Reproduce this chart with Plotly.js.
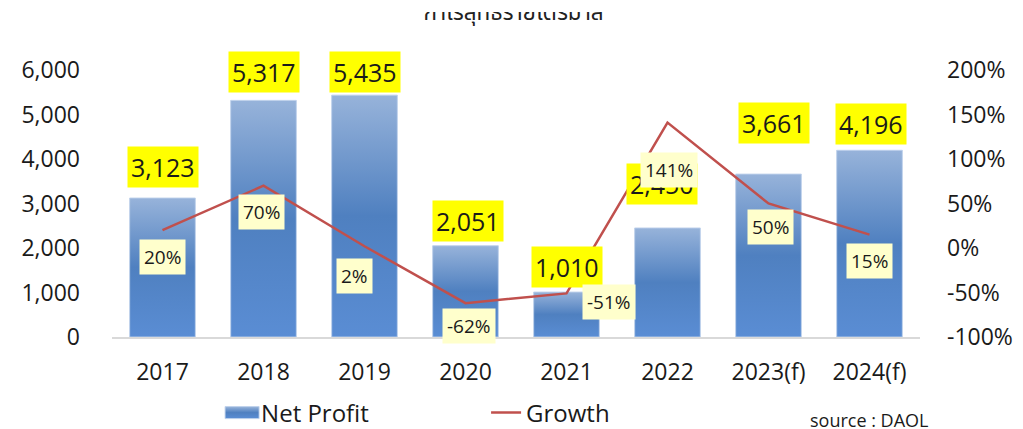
<!DOCTYPE html>
<html><head><meta charset="utf-8">
<script src="https://cdn.plot.ly/plotly-3.0.1.min.js"></script>
<style>html,body{margin:0;padding:0;background:#fff}#chart{width:1023px;height:429px}</style>
</head><body><div id="chart"></div>
<script>
// ---- data ----
const years = ['2017','2018','2019','2020','2021','2022','2023(f)','2024(f)'];
const netProfit = [3123, 5317, 5435, 2051, 1010, 2450, 3661, 4196];
const growth = [0.20, 0.70, 0.02, -0.62, -0.51, 1.41, 0.50, 0.15];
const leftTicks = [0, 1000, 2000, 3000, 4000, 5000, 6000];
const rightTicks = [-1, -0.5, 0, 0.5, 1, 1.5, 2];

// ---- label placement (layout only) ----
const barLabelShift = [31, 28, 23, 25, 25, 44, 51, 26];
const barLabelDx = [0, 0, 0, 2, 0, -6, 5, 1];
const growthLabelDx = [0, -2, -10, 3, 42, 1, 2, 0];
const growthLabelDy = [-27, -26, -30, -23, -9, -47, -23, -26];

const FONT = 'Open Sans, Noto Sans, sans-serif';
const fmt = v => v.toLocaleString('en-US');
const pct = v => Math.round(v * 100) + '%';

const traces = [
  {
    type: 'bar', name: 'Net Profit', x: years, y: netProfit,
    marker: {color: '#5583C4', line: {color: 'rgba(190,208,235,0.9)', width: 1}},
    hoverinfo: 'none'
  },
  {
    type: 'scatter', mode: 'lines', name: 'Growth', x: years, y: growth, yaxis: 'y2',
    line: {color: '#C0504D', width: 2.5}, hoverinfo: 'none'
  }
];

const annotations = [];
years.forEach((yr, i) => {
  annotations.push({
    x: i, y: netProfit[i], xref: 'x', yref: 'y',
    text: fmt(netProfit[i]), showarrow: false,
    yanchor: 'middle', xanchor: 'center',
    yshift: barLabelShift[i], xshift: barLabelDx[i],
    bgcolor: '#FFFF00', borderpad: 3,
    font: {family: FONT, size: 25, color: '#1a1a1a'}
  });
});
years.forEach((yr, i) => {
  annotations.push({
    x: i, y: growth[i], xref: 'x', yref: 'y2',
    text: pct(growth[i]), showarrow: false,
    yanchor: 'middle', xanchor: 'center',
    yshift: growthLabelDy[i], xshift: growthLabelDx[i],
    bgcolor: '#FFFFCC', borderpad: 4,
    font: {family: FONT, size: 19, color: '#1a1a1a'}
  });
});
annotations.push({
  xref: 'paper', yref: 'paper', x: 1.0105, y: -0.311, xanchor: 'right', yanchor: 'middle',
  text: 'source : DAOL', showarrow: false, borderpad: 0, borderwidth: 0,
  font: {family: FONT, size: 18, color: '#1a1a1a'}
});

const layout = {
  width: 1023, height: 429,
  margin: {l: 112, r: 103, t: 70, b: 92, autoexpand: false},
  paper_bgcolor: '#ffffff', plot_bgcolor: '#ffffff',
  font: {family: FONT, color: '#1a1a1a'},
  title: {
    text: 'กำไรสุทธิรายไตรมาส',
    font: {family: 'Noto Sans Thai, Noto Sans, DejaVu Sans, sans-serif', size: 22.5, color: '#222'},
    x: 0.497, xanchor: 'center', xref: 'paper', yref: 'container', y: 0.972, yanchor: 'middle'
  },
  bargap: 0.35,
  showlegend: true,
  legend: {
    orientation: 'h', x: 0.135, xanchor: 'left', yref: 'container', y: 1 - 413 / 429, yanchor: 'middle',
    font: {family: FONT, size: 24, color: '#1a1a1a'},
    entrywidth: 220, entrywidthmode: 'pixels', traceorder: 'normal'
  },
  xaxis: {
    type: 'category', showgrid: false, zeroline: false,
    showline: true, linecolor: '#d9d9d9', linewidth: 1.5, ticks: '',
    tickfont: {family: FONT, size: 23, color: '#1a1a1a'}, ticklabelstandoff: 14
  },
  yaxis: {
    range: [0, 6000], tickvals: leftTicks, ticktext: leftTicks.map(fmt),
    showgrid: false, zeroline: false, showline: false, ticks: '',
    tickfont: {family: FONT, size: 23, color: '#1a1a1a'}, ticklabelstandoff: 31
  },
  yaxis2: {
    overlaying: 'y', side: 'right', range: [-1, 2],
    tickvals: rightTicks, ticktext: rightTicks.map(pct),
    showgrid: false, zeroline: false, showline: false, ticks: '',
    tickfont: {family: FONT, size: 23, color: '#1a1a1a'}, ticklabelstandoff: 26
  },
  annotations: annotations
};

Plotly.newPlot('chart', traces, layout, {staticPlot: true, displayModeBar: false}).then(gd => {
  const svg = gd.querySelector('.main-svg');
  const ns = 'http://www.w3.org/2000/svg';
  let defs = svg.querySelector('defs');
  if (!defs) { defs = document.createElementNS(ns, 'defs'); svg.insertBefore(defs, svg.firstChild); }
  // vertical gradient fill for bars (Excel-like)
  const grad = document.createElementNS(ns, 'linearGradient');
  grad.setAttribute('id', 'barGrad');
  grad.setAttribute('x1', '0'); grad.setAttribute('y1', '0');
  grad.setAttribute('x2', '0'); grad.setAttribute('y2', '1');
  [['0', '#97B3DA'], ['0.5', '#4F80C0'], ['1', '#5A8DD4']].forEach(([o, c]) => {
    const s = document.createElementNS(ns, 'stop');
    s.setAttribute('offset', o); s.setAttribute('stop-color', c);
    grad.appendChild(s);
  });
  defs.appendChild(grad);
  // clip the top of the title (as cut in the reference)
  const cp = document.createElementNS(ns, 'clipPath');
  cp.setAttribute('id', 'titleClip');
  cp.setAttribute('clipPathUnits', 'userSpaceOnUse');
  const r = document.createElementNS(ns, 'rect');
  r.setAttribute('x', '0'); r.setAttribute('y', '12');
  r.setAttribute('width', '1023'); r.setAttribute('height', '417');
  cp.appendChild(r);
  defs.appendChild(cp);
  const t = gd.querySelector('.g-gtitle');
  if (t) t.setAttribute('clip-path', 'url(#titleClip)');

  gd.querySelectorAll('.barlayer .point path').forEach(p => {
    p.style.fill = 'url(#barGrad)';
  });
  // wide rectangular legend key for the bar series
  const legendTraces = gd.querySelectorAll('.legend .traces');
  if (legendTraces.length) {
    legendTraces[0].querySelectorAll('.legendpoints path').forEach(p => {
      p.setAttribute('d', 'M-16,-6h34v12h-34z');
      p.style.fill = 'url(#barGrad)';
    });
  }
});
</script>
</body></html>
